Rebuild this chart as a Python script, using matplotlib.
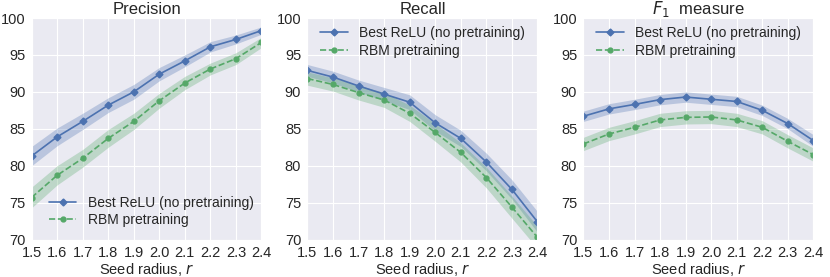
import numpy as np
import matplotlib
matplotlib.use("Agg")
import seaborn as sns
from matplotlib import pyplot as plt

radius = [1.5, 1.6, 1.7, 1.8, 1.9, 2.0, 2.1, 2.2, 2.3, 2.4]

prec_relu = [81.3, 83.9, 86.0, 88.2, 90.0, 92.4, 94.2, 96.1, 97.1, 98.3]
prec_relu_err = [1.3, 1.2, 1.1, 1.0, 1.0, 0.9, 0.8, 0.7, 0.6, 0.5]
prec_rbm = [75.7, 78.7, 81.0, 83.7, 86.0, 88.8, 91.2, 93.1, 94.5, 96.7]
prec_rbm_err = [1.4, 1.3, 1.2, 1.2, 1.1, 1.0, 0.9, 0.8, 0.8, 0.7]

rec_relu = [92.9, 92.0, 90.8, 89.7, 88.6, 85.8, 83.7, 80.5, 76.8, 72.4]
rec_relu_err = [0.8, 0.8, 0.8, 0.9, 1.0, 1.1, 1.1, 1.2, 1.3, 1.4]
rec_rbm = [91.8, 91.0, 89.9, 88.9, 87.1, 84.5, 81.8, 78.4, 74.4, 70.3]
rec_rbm_err = [0.9, 0.9, 1.0, 1.0, 1.1, 1.2, 1.3, 1.4, 1.5, 1.5]

f1_relu = [86.7, 87.7, 88.3, 88.95, 89.3, 89.0, 88.7, 87.5, 85.7, 83.4]
f1_relu_err = [0.7, 0.7, 0.7, 0.7, 0.7, 0.7, 0.7, 0.7, 0.7, 0.8]
f1_rbm = [82.95, 84.3, 85.2, 86.2, 86.55, 86.6, 86.2, 85.2, 83.3, 81.5]
f1_rbm_err = [0.9, 0.9, 0.9, 0.9, 0.9, 0.9, 0.9, 0.9, 0.9, 0.9]

titles = ["Precision", "Recall", "$F_1$  measure"]
legend_locs = ["lower left", "upper right", "upper right"]

sns.set_style("darkgrid")
plt.rcParams['font.family'] = ['Liberation Sans', 'DejaVu Sans']
plt.rcParams['mathtext.fontset'] = 'dejavusans'

blue = "#4C72B0"
green = "#55A868"

fig, axes = plt.subplots(1, 3, figsize=(8.3, 2.77), dpi=100)
fig.subplots_adjust(left=0.038, right=0.98, top=0.935, bottom=0.135, wspace=0.2)

panels = [
    (prec_relu, prec_relu_err, prec_rbm, prec_rbm_err),
    (rec_relu, rec_relu_err, rec_rbm, rec_rbm_err),
    (f1_relu, f1_relu_err, f1_rbm, f1_rbm_err),
]

x = np.array(radius)
for ax, (a, ae, b, be), title, loc in zip(axes, panels, titles, legend_locs):
    a, ae, b, be = map(np.array, (a, ae, b, be))
    ax.fill_between(x, a - ae, a + ae, color=blue, alpha=0.3, linewidth=0)
    ax.fill_between(x, b - be, b + be, color=green, alpha=0.3, linewidth=0)
    ax.plot(x, a, "-D", color=blue, lw=1.2, ms=3.5, label="Best ReLU (no pretraining)")
    ax.plot(x, b, "--o", color=green, lw=1.2, ms=3.5, label="RBM pretraining")
    ax.set_xlim(1.5, 2.4)
    ax.set_ylim(70, 100)
    ax.set_xticks(radius)
    ax.set_xticklabels(["%.1f" % r for r in radius])
    ax.tick_params(axis='both', labelsize=10.5, pad=1)
    ax.set_xlabel("Seed radius, $r$", fontsize=10.5, labelpad=1)
    ax.set_title(title, fontsize=12, pad=3)
    if loc == "lower left":
        ax.legend(loc=loc, fontsize=10, frameon=False, labelspacing=0.25,
                  bbox_to_anchor=(0.02, 0.0))
    else:
        ax.legend(loc=loc, fontsize=10, frameon=False, labelspacing=0.25,
                  bbox_to_anchor=(1.0, 1.02))

plt.savefig("out.png", dpi=100)
